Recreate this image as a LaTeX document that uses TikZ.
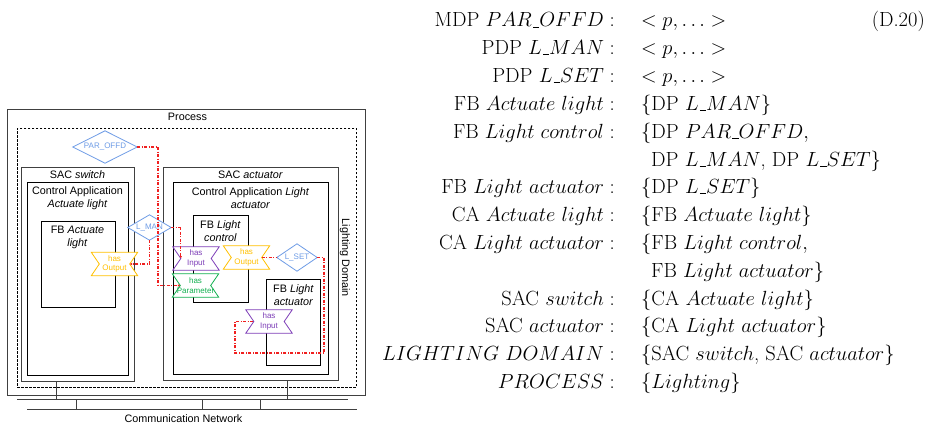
\documentclass[tikz,border=0pt]{standalone}
\usepackage{fix-cm}
\usepackage{fontspec}
\newfontfamily\diagfont{Liberation Sans}
\usetikzlibrary{arrows.meta,calc}
\definecolor{dblue}{HTML}{6E9CE6}
\definecolor{dyellow}{HTML}{FFC000}
\definecolor{dpurple}{HTML}{7E3FB8}
\definecolor{dgreen}{HTML}{12B050}
\definecolor{dred}{HTML}{F02020}
\newcommand\usc{\mbox{\kern.06em\vbox{\hrule width.3em}}}
\tikzset{
  outerbox/.style={draw=black!75, line width=1.1pt},
  innerbox/.style={draw=black, line width=0.9pt},
  dashbox/.style={draw=black, line width=0.8pt, dash pattern=on 2.5pt off 1.5pt},
  netline/.style={draw=black!75, line width=1pt},
  redline/.style={draw=dred, line width=1.3pt, dash pattern=on 3pt off 1.5pt on 1pt off 1.5pt},
  redtip/.style={-{Latex[length=2.5pt,width=2.5pt]}},
  lbl/.style={font=\diagfont\fontsize{10.8}{13}\selectfont, inner sep=0pt, align=center},
  small/.style={font=\diagfont\fontsize{8}{9.5}\selectfont, inner sep=0pt, align=center},
  eq/.style={font=\fontsize{20.5}{24}\selectfont, inner sep=0pt},
}
\newcommand\mkbox[6]{\node[#6, inner sep=0pt, minimum width={#4-#2}, minimum height={#5-#3}, anchor=north west] (#1) at (#2,#3) {};}
\newcommand\tienode[5]{%
  \path node[inner sep=0pt, minimum width=46, minimum height=23] (#1) at (#2,#3) {};
  \path[draw=#4, fill=white, line width=0.8pt] (#1.north west) -- (#1.north east) -- ($(#1.east)+(-8,0)$) -- (#1.south east) -- (#1.south west) -- ($(#1.west)+(8,0)$) -- cycle;
  \coordinate (#1-l) at ($(#1.west)+(8,0)$);
  \coordinate (#1-r) at ($(#1.east)+(-8,0)$);
  \node[small, text=#4] (#1-t) at (#1) {#5};}
\newcommand\dianode[6]{%
  \path node[inner sep=0pt, minimum width=#4, minimum height=#5] (#1) at (#2,#3) {};
  \path[draw=dblue, fill=white, line width=0.8pt] (#1.north) -- (#1.east) -- (#1.south) -- (#1.west) -- cycle;
  \node[small, text=dblue] (#1-t) at (#1) {#6};}
\begin{document}
\begin{tikzpicture}[x=1pt,y=-1pt]
\useasboundingbox (0,0) rectangle (928,425);
% boxes
\mkbox{process}{7}{109}{365}{395}{outerbox}
\mkbox{domain}{17}{128}{356}{387}{dashbox}
\mkbox{sacsw}{21}{167}{134}{381}{outerbox}
\mkbox{casw}{27}{182}{128}{375}{innerbox}
\mkbox{fbsw}{41}{221}{115}{307}{innerbox}
\mkbox{sacact}{163}{167}{338}{380}{outerbox}
\mkbox{caact}{173}{182}{328}{374}{innerbox}
\mkbox{fbctl}{193}{215}{248}{302}{innerbox}
\mkbox{fbact}{266}{279}{320}{365}{innerbox}
% titles
\node[lbl] (tprocess) at (187.5,117) {Process};
\node[lbl] (tsacsw) at (77.5,175) {SAC \textit{switch}};
\node[lbl] (tcasw) at (77.5,198) {Control Application\\\textit{Actuate light}};
\node[lbl] (tfbsw) at (77.5,237) {FB \textit{Actuate}\\\textit{light}};
\node[lbl] (tsacact) at (250.5,175) {SAC \textit{actuator}};
\node[lbl] (tcaact) at (250.5,198) {Control Application \textit{Light}\\\textit{actuator}};
\node[lbl] (tfbctl) at (220.5,231) {FB \textit{Light}\\\textit{control}};
\node[lbl] (tfbact) at (293.5,295) {FB \textit{Light}\\\textit{actuator}};
\node[lbl, rotate=-90] (tdomain) at (345,258) {Lighting Domain};
% network
\coordinate (b1w) at (17,399); \coordinate (b1e) at (348,399);
\coordinate (b2w) at (27,409); \coordinate (b2e) at (357,409);
\draw[netline] (b1w) -- (b1e);
\draw[netline] (b2w) -- (b2e);
\coordinate (d1) at (56,399); \coordinate (d2) at (287,399);
\draw[netline] (d1 |- sacsw.south) -- (d1);
\draw[netline] (d2 |- sacact.south) -- (d2);
\coordinate (t1) at (76,409); \coordinate (t2) at (202,409); \coordinate (t3) at (260,409);
\draw[netline] (t1 |- b1w) -- (t1);
\draw[netline] (t2 |- b1w) -- (t2);
\draw[netline] (t3 |- b1w) -- (t3);
\node[lbl] (tnet) at (183.5,419) {Communication Network};
% shapes
\dianode{parof}{105}{147}{64}{32}{PAR\_OFFD}
\dianode{lman}{149.5}{227.5}{43}{25}{L\_MAN}
\dianode{lset}{297}{257.5}{40}{27}{L\_SET}
\tienode{hout1}{114.5}{264}{dyellow}{has\\Output}
\tienode{hin1}{196}{258.5}{dpurple}{has\\Input}
\tienode{hpar}{195.5}{285.5}{dgreen}{has\\Parameter}
\tienode{hout2}{246.5}{257.5}{dyellow}{has\\Output}
\tienode{hin2}{269}{321.5}{dpurple}{has\\Input}
% red connectors
\coordinate (k1) at (158,147);
\draw[redline, redtip] (parof.east) -- (k1) |- (hpar-l);
\draw[redline, redtip] (lman.south) |- (hout1-r);
\draw[redline, redtip] (lman.east) -| (hin1-l);
\draw[redline] (hout2-r) -- (lset.west);
\coordinate (k2) at (324,353); \coordinate (k3) at (235,353);
\draw[redline] (lset.east) -| (k2) -- (k3) |- (hin2-l);
% equations
\node[eq, anchor=base east] (l1) at (615,27) {MDP $PAR\usc OFFD:$};
\node[eq, anchor=base west] (r1) at (641,27) {$<p,\ldots>$};
\node[eq, anchor=base east] (eqno) at (925,27) {(D.20)};
\node[eq, anchor=base east] (l2) at (615,54.8) {PDP $L\usc MAN:$};
\node[eq, anchor=base west] (r2) at (641,54.8) {$<p,\ldots>$};
\node[eq, anchor=base east] (l3) at (615,82.6) {PDP $L\usc SET:$};
\node[eq, anchor=base west] (r3) at (641,82.6) {$<p,\ldots>$};
\node[eq, anchor=base east] (l4) at (615,110.4) {FB $Actuate\ light:$};
\node[eq, anchor=base west] (r4) at (641,110.4) {$\{$DP $L\usc MAN\}$};
\node[eq, anchor=base east] (l5) at (615,138.2) {FB $Light\ control:$};
\node[eq, anchor=base west] (r5) at (641,138.2) {$\{$DP $PAR\usc OFFD,$};
\node[eq, anchor=base west] (r6) at (651,166) {DP $L\usc MAN$, DP $L\usc SET\}$};
\node[eq, anchor=base east] (l7) at (615,193.8) {FB $Light\ actuator:$};
\node[eq, anchor=base west] (r7) at (641,193.8) {$\{$DP $L\usc SET\}$};
\node[eq, anchor=base east] (l8) at (615,221.6) {CA $Actuate\ light:$};
\node[eq, anchor=base west] (r8) at (641,221.6) {$\{$FB $Actuate\ light\}$};
\node[eq, anchor=base east] (l9) at (615,249.4) {CA $Light\ actuator:$};
\node[eq, anchor=base west] (r9) at (641,249.4) {$\{$FB $Light\ control,$};
\node[eq, anchor=base west] (r10) at (651,277.2) {FB $Light\ actuator\}$};
\node[eq, anchor=base east] (l11) at (615,305) {SAC $switch:$};
\node[eq, anchor=base west] (r11) at (641,305) {$\{$CA $Actuate\ light\}$};
\node[eq, anchor=base east] (l12) at (615,332.8) {SAC $actuator:$};
\node[eq, anchor=base west] (r12) at (641,332.8) {$\{$CA $Light\ actuator\}$};
\node[eq, anchor=base east] (l13) at (615,360.6) {$LIGHTING\ DOMAIN:$};
\node[eq, anchor=base west] (r13) at (641,360.6) {$\{$SAC $switch$, SAC $actuator\}$};
\node[eq, anchor=base east] (l14) at (615,388.4) {$PROCESS:$};
\node[eq, anchor=base west] (r14) at (641,388.4) {$\{Lighting\}$};
\end{tikzpicture}
\end{document}
